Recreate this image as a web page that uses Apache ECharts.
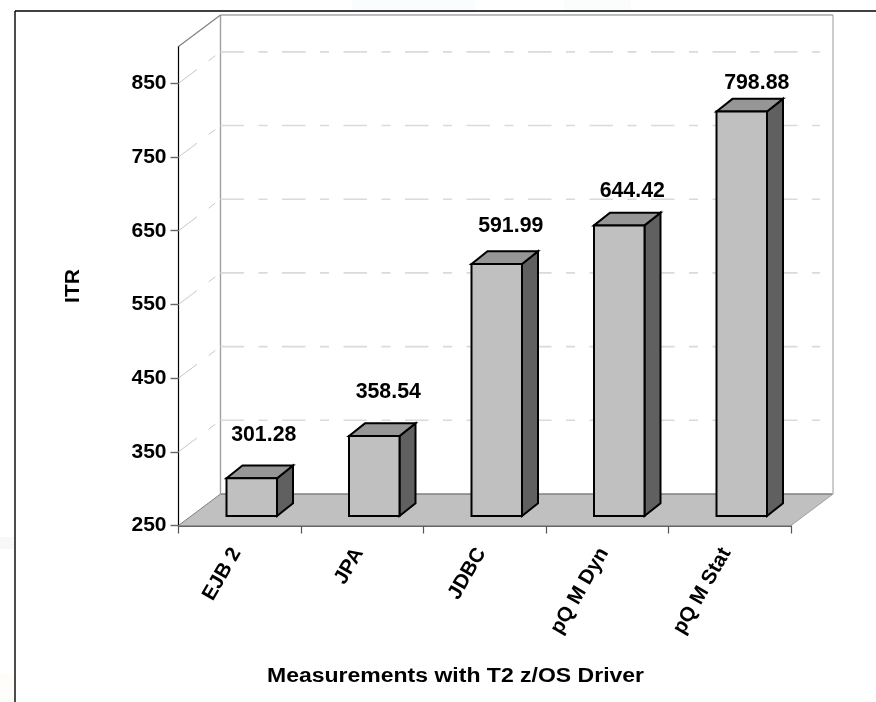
<!DOCTYPE html>
<html>
<head>
<meta charset="utf-8">
<style>html,body{margin:0;padding:0;background:#fff}#c{width:876px;height:702px}</style>
<script src="https://cdn.jsdelivr.net/npm/echarts@6/dist/echarts.min.js"></script>
</head>
<body>
<div id="c"></div>
<script>
var categories = ['EJB 2', 'JPA', 'JDBC', 'pQ M Dyn', 'pQ M Stat'];
var itrValues = [301.28, 358.54, 591.99, 644.42, 798.88];
var yTickValues = [250, 350, 450, 550, 650, 750, 850];
var wallGridValues = [350, 450, 550, 650, 750, 850];

var FONT = '"Liberation Sans", Arial, sans-serif';
var WALL = {dx: 42, dy: -31.5};
var BAR = {inset: 0.3, depthX: 16, depthY: -12.7, width: 50.5};
var labelShift = [[12, 30], [14, 31.5], [14, 25.5], [13, 22], [15, 15.5]];

function seg(x1, y1, x2, y2, stroke, w, dash) {
  return {type: 'line', shape: {x1: x1, y1: y1, x2: x2, y2: y2},
    style: {stroke: stroke, lineWidth: w, lineDash: dash || null, fill: null}};
}
function poly(pts, fill, stroke, w) {
  return {type: 'polygon', shape: {points: pts},
    style: {fill: fill, stroke: stroke, lineWidth: w, lineJoin: 'miter'}};
}

function renderBox(params, api) {
  var cs = params.coordSys;
  var l = cs.x, r = cs.x + cs.width, t = cs.y, b = cs.y + cs.height;
  var d = WALL;
  return {type: 'group', children: [
    poly([[l, b], [r, b], [r + d.dx, b + d.dy], [l + d.dx, b + d.dy]], '#c0c0c0', null, 0),
    seg(l + d.dx, b + d.dy, r + d.dx, b + d.dy, '#808080', 1.4),
    seg(l + d.dx, t + d.dy, l + d.dx, b + d.dy, '#a0a0a0', 1.4),
    seg(r + d.dx, t + d.dy, r + d.dx, b + d.dy, '#c0c0c0', 1.6),
    seg(l + d.dx, t + d.dy, r + d.dx, t + d.dy, '#a8a8a8', 1.4),
    seg(l, t, l + d.dx, t + d.dy, '#808080', 1.2),
    seg(l, b, l + d.dx, b + d.dy, '#808080', 1),
    seg(r, b, r + d.dx, b + d.dy, '#a0a0a0', 1)
  ]};
}

function renderWallGrid(params, api) {
  var p = api.coord([0, api.value(0)]);
  var cs = params.coordSys;
  var y = p[1], l = cs.x, r = cs.x + cs.width, d = WALL;
  return {type: 'group', children: [
    seg(l, y, l + d.dx - 5, y + d.dy * (d.dx - 5) / d.dx, '#c8c8c8', 1, [23, 14.6, 8.4, 100]),
    seg(l + d.dx, y + d.dy, r + d.dx - 13, y + d.dy, '#dadada', 1.6, [23.5, 14.5, 9, 14.5])
  ]};
}

function renderBar(params, api) {
  var i = api.value(0), v = api.value(1);
  var c = api.coord([i, v]), base = api.coord([i, 250]);
  var cx = c[0] + 12, shiftY = WALL.dy * BAR.inset;
  var x1 = cx - BAR.width / 2, x2 = cx + BAR.width / 2;
  var yt = c[1] + shiftY, yb = base[1] + shiftY;
  var dx = BAR.depthX, dy = BAR.depthY;
  var ls = labelShift[params.dataIndex];
  return {type: 'group', children: [
    poly([[x2, yt], [x2 + dx, yt + dy], [x2 + dx, yb + dy], [x2, yb]], '#606060', '#000', 2),
    poly([[x1, yt], [x1 + dx, yt + dy], [x2 + dx, yt + dy], [x2, yt]], '#969696', '#000', 2),
    poly([[x1, yt], [x2, yt], [x2, yb], [x1, yb]], '#c0c0c0', '#000', 2),
    {type: 'text', style: {
      text: api.value(1).toFixed(2), x: cx + ls[0], y: yt + dy - ls[1],
      fill: '#000', font: 'bold 21.3px ' + FONT, align: 'center', verticalAlign: 'middle'}}
  ]};
}

function faint(x, y, w, h, color) {
  return {type: 'rect', silent: true, z: 0, shape: {x: x, y: y, width: w, height: h}, style: {fill: color}};
}

var chart = echarts.init(document.getElementById('c'), null, {renderer: 'canvas'});
chart.setOption({
  animation: false,
  backgroundColor: '#fff',
  grid: {left: 178.5, top: 46.5, width: 612.5, height: 479},
  xAxis: {
    type: 'category', data: categories, boundaryGap: true,
    axisLine: {show: true, lineStyle: {color: '#333', width: 1.6}},
    axisTick: {show: true, length: 8, alignWithLabel: false, lineStyle: {color: '#555', width: 1.2}},
    axisLabel: {interval: 0, rotate: 60, margin: 18, color: '#000', padding: [0, 7, 18, 0],
      fontFamily: FONT, fontWeight: 'bold', fontSize: 20.5},
    splitLine: {show: false}
  },
  yAxis: {
    type: 'value', min: 250, max: 900,
    name: 'ITR', nameLocation: 'middle', nameGap: 94.5, nameRotate: 90,
    nameTextStyle: {color: '#000', fontFamily: FONT, fontWeight: 'bold', fontSize: 21},
    axisLine: {show: true, lineStyle: {color: '#000', width: 1.2}},
    axisTick: {show: true, length: 8, customValues: yTickValues, lineStyle: {color: '#666', width: 1.4}},
    axisLabel: {customValues: yTickValues, margin: 12, color: '#000',
      fontFamily: FONT, fontWeight: 'bold', fontSize: 21},
    splitLine: {show: false}
  },
  series: [
    {type: 'custom', coordinateSystem: 'cartesian2d', z: 1, silent: true,
      renderItem: renderBox, data: [[0, 250]], encode: {x: 0, y: 1}},
    {type: 'custom', coordinateSystem: 'cartesian2d', z: 2, silent: true,
      renderItem: renderWallGrid, data: wallGridValues.map(function (v) { return [v]; }),
      encode: {y: 0}},
    {type: 'custom', coordinateSystem: 'cartesian2d', z: 3, silent: true, clip: false,
      renderItem: renderBar,
      data: itrValues.map(function (v, i) { return [i, v]; }), encode: {x: 0, y: 1}}
  ],
  graphic: [
    faint(352, 0, 123, 10, '#fafdfd'),
    faint(564, 0, 67, 10, '#fafdfb'),
    faint(0, 537, 14, 12, '#f8f8fb'),
    faint(0, 674, 14, 28, '#fffdf9'),
    {type: 'line', silent: true, z: 10, shape: {x1: 15, y1: 11, x2: 876, y2: 11}, style: {stroke: '#000', lineWidth: 1.4}},
    {type: 'line', silent: true, z: 10, shape: {x1: 15, y1: 11, x2: 15, y2: 702}, style: {stroke: '#000', lineWidth: 1.4}},
    {type: 'text', silent: true, z: 10, x: 267, y: 666, scaleX: 1.15,
      style: {text: 'Measurements with T2 z/OS Driver', fill: '#000', font: 'bold 20px ' + FONT}}
  ]
});
</script>
</body>
</html>
